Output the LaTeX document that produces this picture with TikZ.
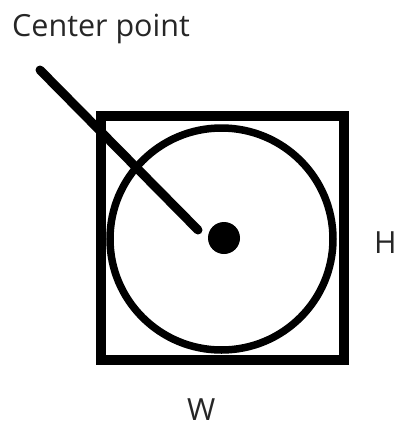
\documentclass[tikz,border=0pt]{standalone}
\usepackage{fontspec}
\setmainfont{Open Sans}
\usetikzlibrary{positioning}

\begin{document}
\begin{tikzpicture}[x=1pt,y=-1pt,
  lbl/.style={inner sep=0pt, font=\fontsize{30.5}{34}\selectfont, text=black!85}]
\useasboundingbox (0,0) rectangle (398,426);
% frame and disc
\draw[black, line width=10pt, line join=miter] (101,116) rectangle (344,360);
\draw[black, line width=7.5pt] (221.5,239) ellipse (111.5 and 111);
\node[circle, fill=black, minimum size=32pt, inner sep=0pt] (center) at (224,238) {};
% pointer
\coordinate (tail) at (40,70);
\coordinate (tip) at (198,230);
\draw[black, line width=9pt, line cap=round] (tail) -- (tip);
% labels
\node[lbl, anchor=base west] (centerlbl) at (12,36) {Center point};
\node[lbl, anchor=base west] (hlbl) at (374,253) {H};
\node[lbl, anchor=base west] (wlbl) at (187,420) {W};
\end{tikzpicture}
\end{document}
